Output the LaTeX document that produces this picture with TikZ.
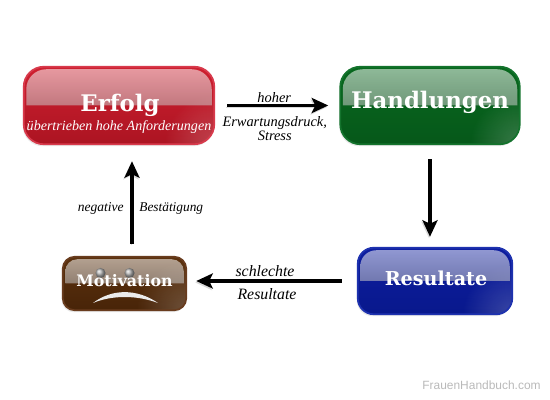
\documentclass[tikz,border=0pt]{standalone}
\usepackage{fontspec}
\setmainfont{Liberation Serif}
\setsansfont{Liberation Sans}
\newfontfamily\titlefont{DejaVu Serif}
\usetikzlibrary{positioning, calc, arrows.meta, shadows, fadings}
\definecolor{erfolg_red}{RGB}{216, 58, 76}
\definecolor{erfolg_top}{RGB}{206, 32, 48}
\definecolor{erfolg_low}{RGB}{172, 20, 34}
\definecolor{handlung_green}{RGB}{20, 115, 45}
\definecolor{handlung_top}{RGB}{8, 104, 30}
\definecolor{handlung_low}{RGB}{6, 88, 26}
\definecolor{resultat_blue}{RGB}{30, 50, 175}
\definecolor{resultat_top}{RGB}{14, 30, 160}
\definecolor{resultat_low}{RGB}{8, 24, 140}
\definecolor{motiv_brown}{RGB}{105, 60, 30}
\definecolor{motiv_top}{RGB}{92, 50, 14}
\definecolor{motiv_low}{RGB}{72, 36, 8}
\definecolor{mark_gray}{RGB}{185, 185, 185}
\tikzfading[name=corner_glow, inner color=transparent!60, outer color=transparent!100]

\begin{document}
\begin{tikzpicture}[
    >=Stealth,
    % Glass buttons: border, upper fill, lower fill, corner radius
    glass_block/.style n args={4}{
        draw=#1,
        line width=.035cm,
        rectangle,
        rounded corners=#4,
        outer sep=0pt,
        inner sep=0pt,
        top color=#2,
        bottom color=#3,
        drop shadow={shadow xshift=-.02cm, shadow yshift=-.04cm, opacity=.18},
        path picture={
            \shade[top color=white, bottom color=black!45, opacity=.55]
                ([xshift=.05cm]path picture bounding box.west)
                [rounded corners=#4]
                -- ([xshift=.05cm, yshift=-.05cm]path picture bounding box.north west)
                -- ([xshift=-.05cm, yshift=-.05cm]path picture bounding box.north east)
                [sharp corners]
                -- ([xshift=-.05cm]path picture bounding box.east)
                -- cycle;
            \fill[white, opacity=.5, path fading=corner_glow]
                (path picture bounding box.south east) circle (1cm);
        }
    },
    title/.style={text=white, font=\titlefont\bfseries, inner sep=0pt},
    caption/.style={font=\fontsize{8.2}{8.4}\selectfont\itshape, align=center, inner sep=0pt},
    arrow/.style={->, line width=.065cm, >={Stealth[length=.33cm, width=.3cm, inset=.07cm]},
        preaction={draw=black!15, transform canvas={shift={(-.02, -.03)}}}}
]
    \useasboundingbox (0,0) rectangle (11,8);

    % ==========================================
    % 1. BUTTONS
    % ==========================================

    \node (erfolg) [glass_block={erfolg_red}{erfolg_top}{erfolg_low}{.4cm},
        minimum width=3.81cm, minimum height=1.55cm] at (2.38, 5.89) {};

    \node (handlungen) [glass_block={handlung_green}{handlung_top}{handlung_low}{.4cm},
        minimum width=3.59cm, minimum height=1.55cm, right=2.52cm of erfolg] {};

    \node (resultate) [glass_block={resultat_blue}{resultat_top}{resultat_low}{.32cm},
        minimum width=3.09cm, minimum height=1.33cm] at (8.7, 2.38) {};

    \node (motivation) [glass_block={motiv_brown}{motiv_top}{motiv_low}{.24cm},
        minimum width=2.47cm, minimum height=1.07cm] at (2.49, 2.33) {};

    % Sad face under the word
    \shade[ball color=gray!60] ([shift={(-.48, .21)}]motivation.center) circle (.1cm);
    \shade[ball color=gray!60] ([shift={(.1, .21)}]motivation.center) circle (.1cm);
    \fill[white!92!black] ([shift={(-.63, -.39)}]motivation.center)
        .. controls ([shift={(-.25, -.1)}]motivation.center) and ([shift={(.25, -.1)}]motivation.center) .. ([shift={(.67, -.39)}]motivation.center)
        .. controls ([shift={(.25, -.23)}]motivation.center) and ([shift={(-.25, -.23)}]motivation.center) .. cycle;

    % ==========================================
    % 2. BUTTON TEXTS
    % ==========================================

    \node (erfolg_title) [title, font=\titlefont\bfseries\fontsize{13}{15}\selectfont] at ([shift={(.02, 0)}]erfolg.center) {Erfolg};
    \node (erfolg_sub) [caption, text=white, font=\fontsize{8}{9.5}\selectfont\itshape] at ([yshift=-.43cm]erfolg.center) {übertrieben hohe Anforderungen};
    \node (handlungen_title) [title, font=\titlefont\bfseries\fontsize{13}{15}\selectfont] at ([yshift=.07cm]handlungen.center) {Handlungen};
    \node (resultate_title) [title, font=\titlefont\bfseries\fontsize{10.9}{13}\selectfont] at ([shift={(.02, .06)}]resultate.center) {Resultate};
    \node (motivation_title) [title, font=\titlefont\bfseries\fontsize{9}{11}\selectfont] at ([yshift=.05cm]motivation.center) {Motivation};

    % ==========================================
    % 3. CYCLE ARROWS
    % ==========================================

    \draw [arrow, shorten <=.26cm, shorten >=.24cm] (erfolg.east) -- (handlungen.west)
        node[midway, above=.03cm, xshift=-.06cm, caption] (hoher) {hoher}
        node[midway, below=.18cm, xshift=-.05cm, caption] (druck) {Erwartungsdruck,\\Stress};

    \draw [arrow, shorten <=.3cm, shorten >=.22cm] (handlungen.south) -- (handlungen.south |- resultate.north);

    \draw [arrow, shorten <=.32cm, shorten >=.2cm] (resultate.west) -- (resultate.west -| motivation.east)
        node[midway, above=.05cm, xshift=-.14cm, caption, font=\fontsize{9}{10}\selectfont\itshape] (schlechte) {schlechte}
        node[midway, below=.12cm, xshift=-.1cm, caption, font=\fontsize{9}{10}\selectfont\itshape] (resultate_label) {Resultate};

    \coordinate (up_start) at ([xshift=.15cm]motivation.north);
    \draw [arrow, shorten <=.26cm, shorten >=.34cm] (up_start) -- (up_start |- erfolg.south);
    \node (negative) [caption, left=.16cm of up_start, yshift=.96cm, font=\fontsize{7.7}{9}\selectfont\itshape] {negative};
    \node (bestaetigung) [caption, right=.14cm of up_start, yshift=.96cm, font=\fontsize{7.6}{9}\selectfont\itshape] {Bestätigung};

    \node (watermark) [text=mark_gray, font=\sffamily\fontsize{6.8}{8}\selectfont, inner sep=0pt] at (9.63, .3) {FrauenHandbuch.com};

\end{tikzpicture}
\end{document}
